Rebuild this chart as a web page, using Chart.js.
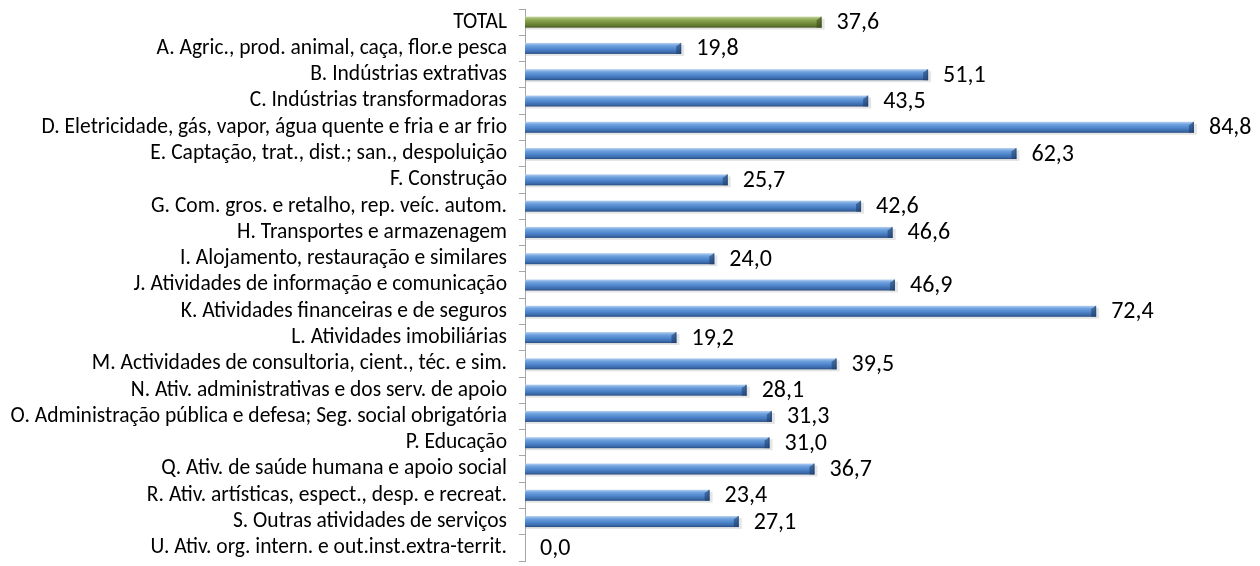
<!DOCTYPE html>
<html>
<head>
<meta charset="utf-8">
<script src="https://cdn.jsdelivr.net/npm/chart.js@4/dist/chart.umd.min.js"></script>
<style>
  html, body { margin: 0; padding: 0; background: #fff; }
  #wrap { width: 1260px; height: 566px; }
</style>
</head>
<body>
<div id="wrap"><canvas id="chart"></canvas></div>
<script>
// ==================== Data ====================
const categories = [
    'TOTAL',
    'A. Agric., prod. animal, caça, flor.e pesca',
    'B. Indústrias extrativas',
    'C. Indústrias transformadoras',
    'D. Eletricidade, gás, vapor, água quente e fria e ar frio',
    'E. Captação, trat., dist.; san., despoluição',
    'F. Construção',
    'G. Com. gros. e retalho, rep. veíc. autom.',
    'H. Transportes e armazenagem',
    'I. Alojamento, restauração e similares',
    'J. Atividades de informação e comunicação',
    'K. Atividades financeiras e de seguros',
    'L. Atividades imobiliárias',
    'M. Actividades de consultoria, cient., téc. e sim.',
    'N. Ativ. administrativas e dos serv. de apoio',
    'O. Administração pública e defesa; Seg. social obrigatória',
    'P. Educação',
    'Q. Ativ. de saúde humana e apoio social',
    'R. Ativ. artísticas, espect., desp. e recreat.',
    'S. Outras atividades de serviços',
    'U. Ativ. org. intern. e out.inst.extra-territ.'
];
const values = [37.6, 19.8, 51.1, 43.5, 84.8, 62.3, 25.7, 42.6, 46.6, 24.0, 46.9, 72.4, 19.2, 39.5, 28.1, 31.3, 31.0, 36.7, 23.4, 27.1, 0.0];
const xMax = 90;

const FONT = 'Carlito, Calibri, "Open Sans", sans-serif';

// ==================== Plugins ====================
// Excel-like shaded bars with a bevelled end
const shadedBars = {
    id: 'shadedBars',
    afterDatasetsDraw(chart) {
        const ctx = chart.ctx;
        const meta = chart.getDatasetMeta(0);
        meta.data.forEach((bar, i) => {
            const w = bar.x - bar.base;
            if (w <= 0) return;
            const h = bar.height;
            const top = bar.y - h / 2;
            const isTotal = i === 0;
            const g = ctx.createLinearGradient(0, top, 0, top + h);
            if (isTotal) {
                g.addColorStop(0, '#c2d49c');
                g.addColorStop(0.25, '#93ad5c');
                g.addColorStop(0.55, '#76913e');
                g.addColorStop(0.85, '#5c742c');
                g.addColorStop(1, '#45561f');
            } else {
                g.addColorStop(0, '#b3cff0');
                g.addColorStop(0.25, '#6fa1de');
                g.addColorStop(0.55, '#4f86cc');
                g.addColorStop(0.85, '#3a69aa');
                g.addColorStop(1, '#284c7e');
            }
            ctx.save();
            // soft shadow
            ctx.fillStyle = 'rgba(0,0,0,0.10)';
            ctx.fillRect(bar.base + 1, top + 2, w + 2, h);
            ctx.fillStyle = g;
            ctx.fillRect(bar.base, top, w, h);
            // bevelled end cap
            const cap = Math.min(5, w);
            const dark = isTotal ? 'rgba(55,70,25,' : 'rgba(28,58,100,';
            ctx.fillStyle = dark + '0.55)';
            ctx.beginPath();
            ctx.moveTo(bar.x - cap, top + h * 0.3);
            ctx.lineTo(bar.x, top);
            ctx.lineTo(bar.x, top + h);
            ctx.lineTo(bar.x - cap, top + h);
            ctx.closePath();
            ctx.fill();
            ctx.fillStyle = dark + '0.35)';
            ctx.fillRect(bar.x - 1.5, top, 1.5, h);
            ctx.restore();
        });
    }
};

const valueLabels = {
    id: 'valueLabels',
    afterDatasetsDraw(chart) {
        const ctx = chart.ctx;
        const meta = chart.getDatasetMeta(0);
        ctx.save();
        ctx.font = '24px ' + FONT;
        ctx.fillStyle = '#000';
        ctx.textAlign = 'left';
        ctx.textBaseline = 'middle';
        meta.data.forEach((bar, i) => {
            const txt = values[i].toFixed(1).replace('.', ',');
            ctx.fillText(txt, bar.x + 15, bar.y + 1);
        });
        ctx.restore();
    }
};

// ==================== Chart ====================
new Chart(document.getElementById('chart').getContext('2d'), {
    type: 'bar',
    data: {
        labels: categories,
        datasets: [{
            data: values,
            backgroundColor: 'rgba(0,0,0,0)',
            borderWidth: 0,
            barThickness: 11
        }]
    },
    options: {
        indexAxis: 'y',
        responsive: true,
        maintainAspectRatio: false,
        animation: false,
        layout: { padding: { top: 9, bottom: 5, left: 0, right: 25 } },
        scales: {
            x: {
                display: false,
                min: 0,
                max: xMax
            },
            y: {
                afterFit(scale) {
                    scale.width = 525;
                    scale.paddingTop = 0;
                    scale.paddingBottom = 0;
                },
                grid: {
                    display: true,
                    drawOnChartArea: false,
                    offset: true,
                    tickLength: 6,
                    color: '#a6a6a6'
                },
                border: { display: true, color: '#a6a6a6', width: 1 },
                ticks: {
                    color: '#000',
                    padding: 12,
                    autoSkip: false,
                    font: { family: FONT, size: 21.5 }
                }
            }
        },
        plugins: {
            legend: { display: false },
            tooltip: { enabled: false }
        }
    },
    plugins: [shadedBars, valueLabels]
});
</script>
</body>
</html>
